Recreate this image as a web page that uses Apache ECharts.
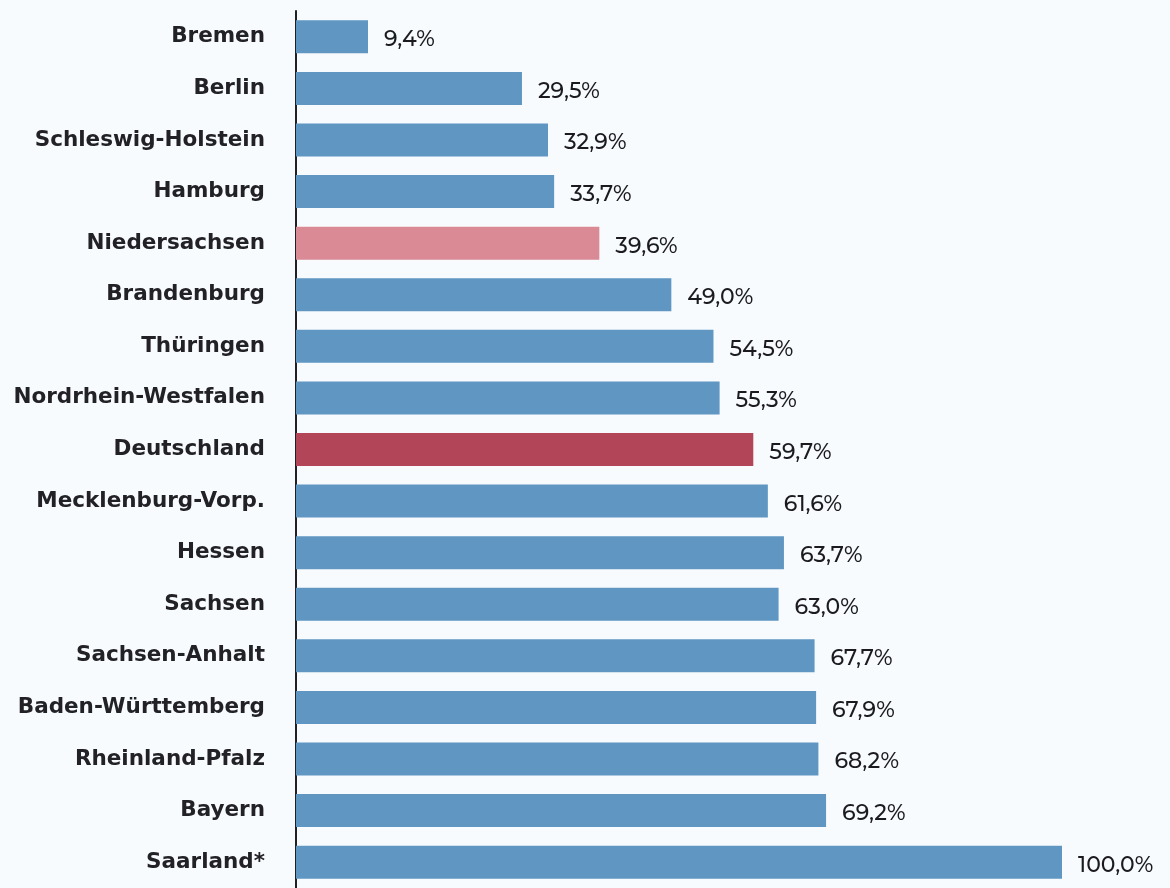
<!DOCTYPE html>
<html>
<head>
<meta charset="utf-8">
<script src="https://cdn.jsdelivr.net/npm/echarts@6/dist/echarts.min.js"></script>
<style>
  html, body { margin: 0; padding: 0; background: #f8fbfe; }
  #chart { width: 1170px; height: 888px; }
</style>
</head>
<body>
<div id="chart"></div>
<script>
// Anteil je Bundesland, von oben nach unten
const regions = [
  'Bremen', 'Berlin', 'Schleswig-Holstein', 'Hamburg', 'Niedersachsen',
  'Brandenburg', 'Thüringen', 'Nordrhein-Westfalen', 'Deutschland',
  'Mecklenburg-Vorp.', 'Hessen', 'Sachsen', 'Sachsen-Anhalt',
  'Baden-Württemberg', 'Rheinland-Pfalz', 'Bayern', 'Saarland*'
];
const shares = [9.4, 29.5, 32.9, 33.7, 39.6, 49.0, 54.5, 55.3, 59.7, 61.6, 63.7, 63.0, 67.7, 67.9, 68.2, 69.2, 100.0];
// hervorgehobene Balken
const highlight = { 'Niedersachsen': '#d98a94', 'Deutschland': '#b24558' };
const baseColor = '#5f96c2';

const chart = echarts.init(document.getElementById('chart'));
chart.setOption({
  backgroundColor: '#f8fbfe',
  animation: false,
  grid: { left: 296, width: 766, top: 11, height: 883 },
  xAxis: {
    type: 'value', min: 0, max: 100, show: false
  },
  yAxis: {
    type: 'category', inverse: true, data: regions,
    axisLine: { show: true, lineStyle: { color: '#1f1f24', width: 2 } },
    axisTick: { show: false },
    axisLabel: {
      margin: 31, color: '#222226', fontSize: 21.5, fontWeight: 'bold',
      fontFamily: 'DejaVu Sans', padding: [3, 0, 0, 0]
    }
  },
  series: [{
    type: 'bar',
    barWidth: 33,
    data: shares.map((v, i) => ({
      value: v,
      itemStyle: { color: highlight[regions[i]] || baseColor }
    })),
    label: {
      show: true, position: 'right', distance: 16,
      color: '#1b1b1f', fontSize: 22, fontWeight: 500,
      fontFamily: 'Montserrat, Lato, Roboto, sans-serif',
      offset: [0, 3],
      formatter: p => p.value.toFixed(1).replace('.', ',') + '%'
    }
  }]
});
</script>
</body>
</html>
